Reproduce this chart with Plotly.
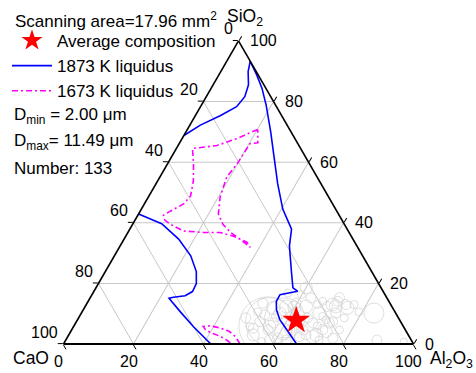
import plotly.graph_objects as go

# ---------------- data (wt%) ----------------
tick_vals = [0, 20, 40, 60, 80, 100]
tick_labels = ["0", "20", "40", "60", "80", "100"]

# 1873 K liquidus, branch near SiO2 apex (SiO2, Al2O3); CaO = 100 - SiO2 - Al2O3
liq1873_up_sio2 = [68.8, 72.2, 75.3, 78.3, 81.6, 85.5, 89.9, 93.3, 88.8, 84.4, 78.8, 70.0, 62.2,
                   52.8, 44.5, 37.9, 32.3, 23.5, 18.5, 17.4, 16.3, 14.0, 11.3, 8.0, 4.1, 0.0, 0.0]
liq1873_up_al2o3 = [0.0, 3.0, 7.1, 10.3, 11.0, 10.1, 7.8, 6.7, 10.8, 14.5, 18.5, 24.2, 29.0,
                    34.8, 40.4, 46.2, 48.4, 53.4, 56.3, 58.2, 53.7, 53.8, 55.2, 57.8, 62.1, 66.6, 63.2]
# 1873 K liquidus, CaO-rich branch
liq1873_lo_sio2 = [42.9, 39.7, 34.6, 29.1, 23.9, 19.9, 17.3, 15.9, 15.4, 15.1, 10.6, 5.7, 0.0]
liq1873_lo_al2o3 = [0.0, 8.2, 15.6, 21.8, 26.0, 28.0, 28.2, 26.8, 23.7, 22.6, 28.1, 34.3, 42.1]

# 1673 K liquidus, closed region in the middle
liq1673_mid_sio2 = [70.8, 67.8, 65.5, 64.5, 59.5, 53.8, 48.8, 46.2, 43.9, 42.5, 40.9, 39.5, 37.3, 36.8,
                    36.8, 35.6, 33.6, 31.9, 34.6, 36.9, 39.5, 42.9, 48.5, 55.1, 59.5, 66.1, 66.4, 70.8]
liq1673_mid_al2o3 = [20.1, 15.7, 11.1, 4.6, 7.4, 10.2, 11.9, 11.2, 8.7, 7.3, 8.5, 10.8, 15.6, 21.5,
                     26.4, 30.6, 35.6, 37.4, 33.1, 29.2, 25.8, 22.8, 20.5, 19.1, 19.9, 20.2, 22.3, 20.1]
# 1673 K liquidus, small region near the CaO-Al2O3 side
liq1673_low_sio2 = [0.0, 2.3, 4.2, 5.3, 6.0, 5.8, 4.7, 3.5, 2.5, 1.0, 0.0]
liq1673_low_al2o3 = [50.4, 48.1, 45.2, 42.1, 38.9, 37.0, 38.2, 40.8, 43.6, 46.5, 47.9]

# inclusions (SiO2, Al2O3, marker diameter ~ particle size)
incl_sio2 = [18.5, 15.2, 13.0, 12.4, 14.1, 13.0, 13.0, 10.2, 7.4, 9.1, 4.1, 2.4, 2.4, 4.7, 4.1, 5.7,
             7.4, 5.2, 9.6, 9.1, 11.9, 13.5, 6.0, 8.6, 10.2, 1.3, 0.8, 13.0, 11.9, 15.3, 12.4, 10.2,
             14.1, 13.5, 12.4, 5.7, 3.0, 4.7, 6.9, 10.2, 6.9, 3.0, 3.0, 1.3, 1.3, 0.8, 7.4, 9.1,
             6.9, 8.0, 16.8, 16.3, 12.4, 6.9, 4.7, 1.9, 4.7, 8.6, 8.6, 6.0, 4.7, 8.6, 10.6, 12.0,
             10.6, 8.6, 2.0, 1.3]
incl_al2o3 = [60.1, 63.1, 66.1, 69.2, 71.3, 74.2, 76.5, 72.7, 73.2, 69.5, 73.0, 70.0, 66.2, 66.1, 60.7, 56.0,
              52.4, 51.6, 52.7, 56.3, 54.0, 50.2, 55.4, 58.9, 83.6, 88.9, 96.8, 70.4, 75.2, 71.2, 63.1, 68.0,
              67.0, 59.7, 57.5, 50.4, 52.7, 56.1, 56.5, 56.7, 67.8, 70.7, 67.8, 63.0, 58.2, 56.2, 55.2, 61.0,
              64.5, 71.0, 55.7, 59.8, 71.6, 72.5, 71.7, 76.0, 62.3, 62.0, 65.4, 69.5, 76.5, 75.9, 79.1, 60.0,
              50.2, 47.8, 60.2, 72.4]
incl_size = [12, 10, 8, 10, 10, 10, 8, 10, 10, 8, 12, 13, 10, 10, 17, 13,
             10, 10, 10, 10, 13, 10, 58, 40, 20, 10, 7, 13, 13, 10, 13, 13,
             8, 10, 13, 8, 12, 10, 10, 12, 10, 13, 10, 10, 10, 8, 48, 13,
             10, 8, 8, 8, 13, 10, 10, 10, 10, 8, 10, 8, 8, 8, 8, 13,
             8, 10, 10, 8]

avg_sio2 = [7.8]
avg_al2o3 = [62.6]


def cao(s, a):
    return [None if (x is None) else 100 - x - y for x, y in zip(s, a)]


blue_s = liq1873_up_sio2 + [None] + liq1873_lo_sio2
blue_a = liq1873_up_al2o3 + [None] + liq1873_lo_al2o3
mag_s = liq1673_mid_sio2 + [None] + liq1673_low_sio2
mag_a = liq1673_mid_al2o3 + [None] + liq1673_low_al2o3

FONT = "Arial, Liberation Sans, sans-serif"
W, H = 476, 373
# ternary frame (pixels): left corner x, right corner x, base y
TX0, TX1, TYB = 63.5, 413.5, 344.0
TW = TX1 - TX0
TH = TW * 3 ** 0.5 / 2

fig = go.Figure()

fig.add_trace(go.Scatterternary(
    a=incl_sio2, b=cao(incl_sio2, incl_al2o3), c=incl_al2o3,
    mode="markers", showlegend=False, hoverinfo="skip",
    marker=dict(symbol="circle-open", size=incl_size, color="#d2d2d2", line=dict(width=1, color="#d2d2d2")),
))

fig.add_trace(go.Scatterternary(
    a=blue_s, b=cao(blue_s, blue_a), c=blue_a, mode="lines",
    name="1873 K liquidus", legendgroup="g2", legendrank=2,
    line=dict(color="#0000ff", width=1.6), connectgaps=False,
))

fig.add_trace(go.Scatterternary(
    a=mag_s, b=cao(mag_s, mag_a), c=mag_a, mode="lines",
    name="1673 K liquidus", legendgroup="g3", legendrank=3,
    line=dict(color="#ff00ff", width=1.6, dash="6px,3px,2px,3px"), connectgaps=False,
))

fig.add_trace(go.Scatterternary(
    a=avg_sio2, b=cao(avg_sio2, avg_al2o3), c=avg_al2o3, mode="markers",
    name="Average composition", legendgroup="g1", legendrank=1,
    marker=dict(symbol="star", size=21, color="#ff0000", line=dict(width=0)),
))


def axis_style(lw):
    return dict(
        tickmode="array", tickvals=tick_vals, ticks="outside", ticklen=5,
        tickwidth=1.2, tickcolor="black", showticklabels=False,
        linecolor="black", linewidth=lw, showline=True,
        showgrid=True, gridcolor="#c8c8c8", gridwidth=1,
        title=dict(text=""),
    )


fig.update_layout(
    width=W, height=H, autosize=False,
    margin=dict(l=0, r=0, t=0, b=0),
    paper_bgcolor="white",
    font=dict(family=FONT, size=17, color="black"),
    ternary=dict(
        sum=100, bgcolor="white",
        domain=dict(x=[TX0 / W, TX1 / W], y=[(H - TYB) / H, (H - TYB + TH) / H]),
        aaxis=axis_style(1.6), baxis=axis_style(2.0), caxis=axis_style(1.6),
    ),
    showlegend=True,
    legend=dict(
        x=7 / W, y=1 - 23 / H, xanchor="left", yanchor="top",
        bgcolor="rgba(0,0,0,0)", font=dict(family=FONT, size=17, color="black"),
        traceorder="grouped", tracegroupgap=0, itemwidth=40,
    ),
)


def add_text(txt, px, py, anc, size=17):
    fig.add_annotation(text=txt, x=px / W, y=1 - py / H, xref="paper", yref="paper",
                       xanchor=anc, yanchor="middle", showarrow=False,
                       font=dict(family=FONT, size=size, color="black"))


# tick labels: left edge = CaO, right edge = SiO2, bottom = Al2O3
for v, lab in zip(tick_vals, tick_labels):
    f = (100 - v) / 100.0          # SiO2 fraction at the CaO = v tick on the left edge
    add_text(lab, TX0 + f * TW / 2 - 4, TYB - f * TH - 12, "right", 16)
    g = v / 100.0                  # SiO2 fraction on the right edge
    add_text(lab, TX1 - g * TW / 2 + 9, TYB - g * TH, "left", 16)
    add_text(lab, TX0 + g * TW - 5, TYB + 17.5, "center", 16)

add_text("Scanning area=17.96 mm<sup>2</sup>", 13, 20, "left")
add_text("D<sub>min</sub> = 2.00 μm", 12, 116, "left")
add_text("D<sub>max</sub>= 11.49 μm", 12, 142, "left")
add_text("Number: 133", 12, 168, "left")
add_text("SiO<sub>2</sub>", 245, 17, "center", 17.5)
add_text("CaO", 31, 358, "center", 17.5)
add_text("Al<sub>2</sub>O<sub>3</sub>", 451, 359, "center", 17.5)

fig.write_html("out.html")
